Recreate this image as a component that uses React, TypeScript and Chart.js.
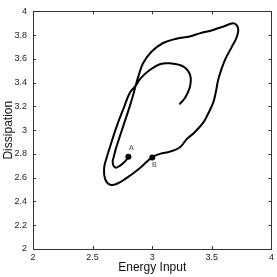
import React, { useEffect, useRef } from "react";
import { Chart, registerables } from "chart.js";

Chart.register(...registerables);

// Trajectory (Energy Input, Dissipation), in drawing order starting at A
const curveX = [
  2.803, 2.755, 2.700, 2.676, 2.668, 2.677, 2.695, 2.713, 2.758, 2.808,
  2.845, 2.860, 2.887, 2.923, 2.993, 3.091, 3.203, 3.314, 3.398, 3.510,
  3.608, 3.677, 3.711, 3.721, 3.706, 3.664, 3.608, 3.557, 3.532, 3.511,
  3.465, 3.429, 3.356, 3.289, 3.233, 3.149, 3.065, 2.998, 2.895, 2.784,
  2.700, 2.644, 2.604, 2.596, 2.615, 2.659, 2.704, 2.762, 2.812, 2.860,
  2.904, 2.979, 3.063, 3.149, 3.262, 3.317, 3.317, 3.275, 3.228,
];
const curveY = [
  2.776, 2.721, 2.685, 2.700, 2.735, 2.775, 2.845, 2.901, 3.039, 3.190,
  3.315, 3.373, 3.464, 3.563, 3.660, 3.734, 3.770, 3.789, 3.815, 3.844,
  3.877, 3.900, 3.880, 3.836, 3.778, 3.695, 3.588, 3.439, 3.315, 3.232,
  3.132, 3.066, 2.983, 2.925, 2.857, 2.820, 2.801, 2.771, 2.680, 2.597,
  2.547, 2.542, 2.590, 2.680, 2.760, 2.901, 3.039, 3.190, 3.315, 3.373,
  3.439, 3.507, 3.555, 3.563, 3.536, 3.466, 3.370, 3.273, 3.218,
];

const markerX = [2.8, 3.0];
const markerY = [2.776, 2.771];
const markerLabels = ["A", "B"];

const xTicks = [2, 2.5, 3, 3.5, 4];
const yTicks = [2, 2.2, 2.4, 2.6, 2.8, 3, 3.2, 3.4, 3.6, 3.8, 4];

const FONT = "'Liberation Sans', Arial, sans-serif";

const framePlugin = {
  id: "frame",
  afterDatasetsDraw(chart: any) {
    const { ctx, chartArea, scales } = chart;
    const { left, right, top, bottom } = chartArea;
    ctx.save();
    ctx.strokeStyle = "#333";
    ctx.lineWidth = 1;
    ctx.strokeRect(
      Math.round(left) + 0.5,
      Math.round(top) + 0.5,
      Math.round(right) - Math.round(left),
      Math.round(bottom) - Math.round(top)
    );
    const tl = 3;
    ctx.beginPath();
    xTicks.forEach((v) => {
      const px = Math.round(scales.x.getPixelForValue(v)) + 0.5;
      ctx.moveTo(px, bottom);
      ctx.lineTo(px, bottom - tl);
      ctx.moveTo(px, top);
      ctx.lineTo(px, top + tl);
    });
    yTicks.forEach((v) => {
      const py = Math.round(scales.y.getPixelForValue(v)) + 0.5;
      ctx.moveTo(left, py);
      ctx.lineTo(left + tl, py);
      ctx.moveTo(right, py);
      ctx.lineTo(right - tl, py);
    });
    ctx.stroke();

    // point labels
    ctx.fillStyle = "#444";
    ctx.font = `7px ${FONT}`;
    ctx.textAlign = "center";
    ctx.textBaseline = "middle";
    const offs = [
      [3, -9],
      [2, 8],
    ];
    markerLabels.forEach((lab, i) => {
      const px = scales.x.getPixelForValue(markerX[i]);
      const py = scales.y.getPixelForValue(markerY[i]);
      ctx.fillText(lab, px + offs[i][0], py + offs[i][1]);
    });
    ctx.restore();
  },
};

const fmt = (v: any) => String(Math.round(Number(v) * 10) / 10);

export default function App() {
  const ref = useRef<HTMLCanvasElement | null>(null);
  useEffect(() => {
    document.body.style.margin = "0";
    if (!ref.current) return;
    const chart = new Chart(ref.current, {
      type: "scatter",
      data: {
        datasets: [
          {
            data: curveX.map((x, i) => ({ x, y: curveY[i] })),
            showLine: true,
            borderColor: "#000",
            borderWidth: 2,
            pointRadius: 0,
            tension: 0.4,
            fill: false,
          } as any,
          {
            data: markerX.map((x, i) => ({ x, y: markerY[i] })),
            showLine: false,
            pointRadius: 3,
            pointBackgroundColor: "#000",
            pointBorderColor: "#000",
            pointBorderWidth: 0,
          } as any,
        ],
      },
      options: {
        animation: false,
        responsive: false,
        devicePixelRatio: 1,
        layout: { padding: { left: 0, top: 7, right: 5, bottom: 0 } },
        plugins: {
          legend: { display: false },
          tooltip: { enabled: false },
        },
        scales: {
          x: {
            type: "linear",
            min: 2,
            max: 4,
            afterBuildTicks: (s: any) => {
              s.ticks = xTicks.map((value) => ({ value }));
            },
            afterFit: (s: any) => {
              s.height = 28;
            },
            grid: { display: false, drawTicks: false },
            border: { display: false },
            ticks: {
              callback: fmt,
              font: { family: FONT, size: 9 },
              color: "#222",
              padding: 3,
              maxRotation: 0,
            },
            title: {
              display: true,
              text: "Energy Input",
              font: { family: FONT, size: 12 },
              color: "#111",
              padding: { top: 0, bottom: 2 },
            },
          },
          y: {
            type: "linear",
            min: 2,
            max: 4,
            afterBuildTicks: (s: any) => {
              s.ticks = yTicks.map((value) => ({ value }));
            },
            afterFit: (s: any) => {
              s.width = 33;
            },
            grid: { display: false, drawTicks: false },
            border: { display: false },
            ticks: {
              callback: fmt,
              font: { family: FONT, size: 9 },
              color: "#222",
              padding: 6,
            },
            title: {
              display: true,
              text: "Dissipation",
              font: { family: FONT, size: 12 },
              color: "#111",
              padding: { top: 1, bottom: 0 },
            },
          },
        },
      },
      plugins: [framePlugin],
    });
    return () => chart.destroy();
  }, []);
  return (
    <div style={{ width: 277, height: 277 }}>
      <canvas ref={ref} width={277} height={277} />
    </div>
  );
}
